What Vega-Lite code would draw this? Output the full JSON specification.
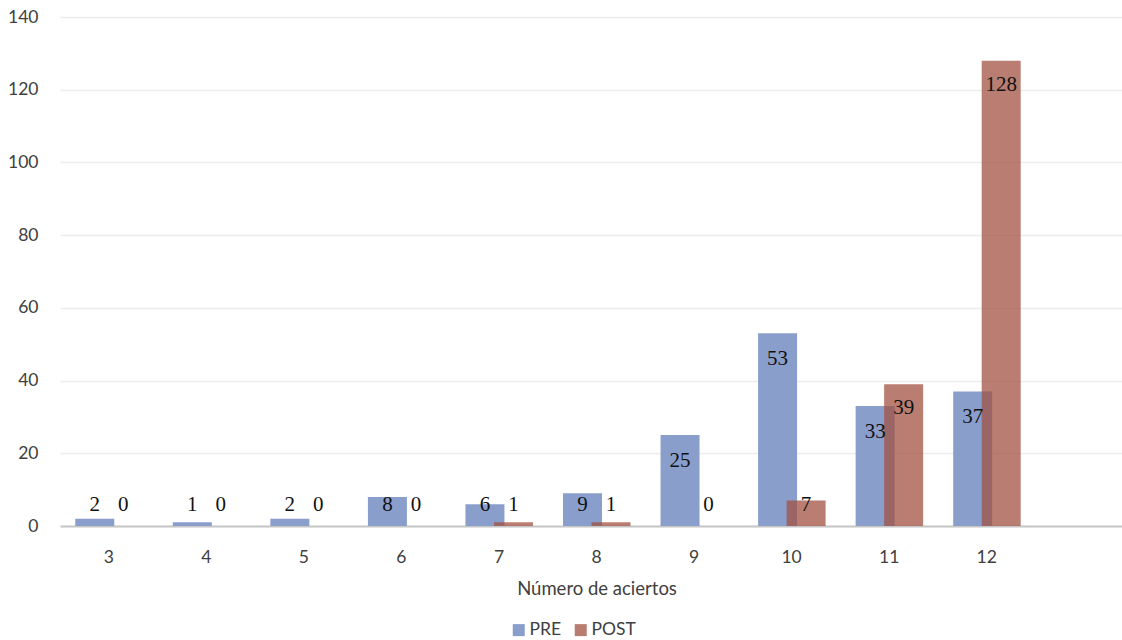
{
  "$schema": "https://vega.github.io/schema/vega-lite/v6.json",
  "width": 1062,
  "height": 509,
  "autosize": {"type": "none"},
  "padding": {"left": 60, "top": 17, "right": 0, "bottom": 114},
  "background": "white",
  "config": {
    "view": {"stroke": null},
    "font": "Lato"
  },
  "data": {
    "values": [
      {"n": 3, "series": "PRE", "value": 2},
      {"n": 4, "series": "PRE", "value": 1},
      {"n": 5, "series": "PRE", "value": 2},
      {"n": 6, "series": "PRE", "value": 8},
      {"n": 7, "series": "PRE", "value": 6},
      {"n": 8, "series": "PRE", "value": 9},
      {"n": 9, "series": "PRE", "value": 25},
      {"n": 10, "series": "PRE", "value": 53},
      {"n": 11, "series": "PRE", "value": 33},
      {"n": 12, "series": "PRE", "value": 37},
      {"n": 3, "series": "POST", "value": 0},
      {"n": 4, "series": "POST", "value": 0},
      {"n": 5, "series": "POST", "value": 0},
      {"n": 6, "series": "POST", "value": 0},
      {"n": 7, "series": "POST", "value": 1},
      {"n": 8, "series": "POST", "value": 1},
      {"n": 9, "series": "POST", "value": 0},
      {"n": 10, "series": "POST", "value": 7},
      {"n": 11, "series": "POST", "value": 39},
      {"n": 12, "series": "POST", "value": 128}
    ]
  },
  "encoding": {
    "x": {
      "field": "n",
      "type": "ordinal",
      "scale": {"domain": [3,4,5,6,7,8,9,10,11,12,13], "range": [0, 1073], "paddingInner": 0, "paddingOuter": 0},
      "axis": {
        "values": [3,4,5,6,7,8,9,10,11,12],
        "title": "Número de aciertos",
        "labelAngle": 0,
        "labelFontSize": 17.5,
        "labelColor": "#404040",
        "labelPadding": 22,
        "ticks": false,
        "domainColor": "#c6c6c6",
        "domainWidth": 2,
        "titleFontSize": 18.5,
        "titleFontWeight": "normal",
        "titleColor": "#404040",
        "titlePadding": 14,
        "grid": false
      }
    },
    "y": {
      "field": "value",
      "type": "quantitative",
      "scale": {"domain": [0, 140], "nice": false},
      "axis": {
        "values": [0,20,40,60,80,100,120,140],
        "title": null,
        "domain": false,
        "ticks": false,
        "labelFontSize": 17.5,
        "labelColor": "#404040",
        "labelPadding": 22,
        "gridColor": "#ececec",
        "gridWidth": 1.5
      }
    }
  },
  "layer": [
    {
      "transform": [{"filter": "datum.series === 'PRE'"}],
      "mark": {"type": "bar", "width": 39, "xOffset": -14},
      "encoding": {
        "color": {
          "field": "series",
          "type": "nominal",
          "scale": {"domain": ["PRE", "POST"], "range": ["#8A9ECC", "#B97C70"]},
          "legend": {
            "title": null,
            "orient": "none",
            "legendX": 450,
            "legendY": 604,
            "direction": "horizontal",
            "symbolType": "square",
            "symbolSize": 144,
            "symbolOpacity": 1,
            "labelFontSize": 17.5,
            "labelColor": "#404040",
            "columnPadding": 10,
            "labelOffset": 2
          }
        }
      }
    },
    {
      "transform": [{"filter": "datum.series === 'POST'"}],
      "mark": {"type": "bar", "width": 39, "xOffset": 14.5, "color": "#A15143", "opacity": 0.75}
    },
    {
      "transform": [{"filter": "datum.series === 'PRE' && datum.value >= 13"}],
      "mark": {"type": "text", "font": "Liberation Serif", "fontSize": 21, "color": "#111111", "xOffset": -14, "dy": 26, "baseline": "middle"},
      "encoding": {"text": {"field": "value", "type": "quantitative"}}
    },
    {
      "transform": [{"filter": "datum.series === 'POST' && datum.value >= 13"}],
      "mark": {"type": "text", "font": "Liberation Serif", "fontSize": 21, "color": "#111111", "xOffset": 14.5, "dy": 24, "baseline": "middle"},
      "encoding": {"text": {"field": "value", "type": "quantitative"}}
    },
    {
      "transform": [{"filter": "datum.series === 'PRE' && datum.value < 13"}],
      "mark": {"type": "text", "font": "Liberation Serif", "fontSize": 21, "color": "#111111", "xOffset": -14, "dy": -21, "baseline": "middle"},
      "encoding": {"y": {"datum": 0, "type": "quantitative"}, "text": {"field": "value", "type": "quantitative"}}
    },
    {
      "transform": [{"filter": "datum.series === 'POST' && datum.value < 13"}],
      "mark": {"type": "text", "font": "Liberation Serif", "fontSize": 21, "color": "#111111", "xOffset": 14.5, "dy": -21, "baseline": "middle"},
      "encoding": {"y": {"datum": 0, "type": "quantitative"}, "text": {"field": "value", "type": "quantitative"}}
    }
  ]
}
